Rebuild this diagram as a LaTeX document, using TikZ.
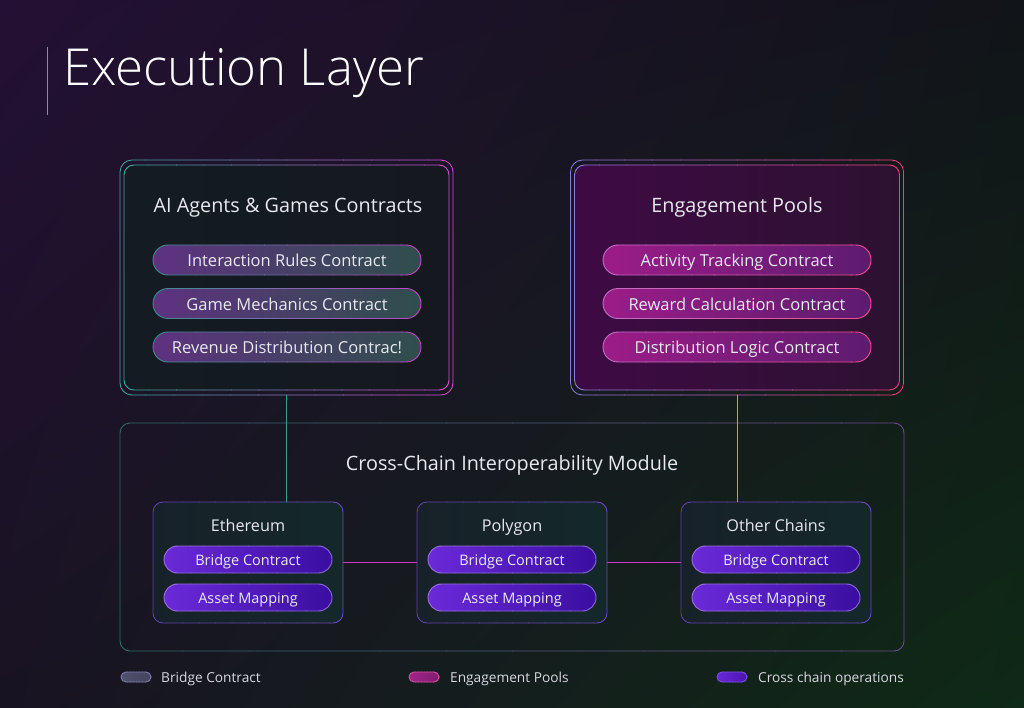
\documentclass[tikz,border=0pt]{standalone}
\usepackage{fontspec}
\setmainfont{Open Sans}
\newfontfamily\titlefont{Open Sans Light}
\usetikzlibrary{shadings}
\definecolor{bgUL}{HTML}{241034}
\definecolor{bgUR}{HTML}{111418}
\definecolor{bgLL}{HTML}{181322}
\definecolor{bgLR}{HTML}{0F2A16}
\definecolor{txt}{HTML}{E8E8F0}
\definecolor{legtxt}{HTML}{D8D8E0}
% border colours per kind
\definecolor{aiL}{HTML}{3FA89E}\definecolor{aiR}{HTML}{D24FD6}
\definecolor{aipL}{HTML}{3E8C90}\definecolor{aipR}{HTML}{C048C8}
\definecolor{engL}{HTML}{8A7ADC}\definecolor{engR}{HTML}{F0407E}
\definecolor{engpL}{HTML}{C070C8}\definecolor{engpR}{HTML}{F04C8C}
\definecolor{chL}{HTML}{5E40A8}\definecolor{chR}{HTML}{6A48B8}
\definecolor{chpL}{HTML}{9A70E0}\definecolor{chpR}{HTML}{8A68D8}
\definecolor{modL}{HTML}{2E6A66}\definecolor{modR}{HTML}{6E4C8C}
\definecolor{lgaL}{HTML}{7A7AA8}\definecolor{lgaR}{HTML}{7A7AA8}
\definecolor{lgeL}{HTML}{D050A0}\definecolor{lgeR}{HTML}{D050A0}
\definecolor{lgcL}{HTML}{7A4AE0}\definecolor{lgcR}{HTML}{7A4AE0}
% fill colours
\definecolor{aiFL}{HTML}{141B22}\definecolor{aiFR}{HTML}{15191F}
\definecolor{aipFL}{HTML}{5E3280}\definecolor{aipFR}{HTML}{2F4E4C}
\definecolor{engFL}{HTML}{3E0A44}\definecolor{engFR}{HTML}{2C1230}
\definecolor{engpFL}{HTML}{9C1C88}\definecolor{engpFR}{HTML}{5C1C6E}
\definecolor{chFL}{HTML}{172129}\definecolor{chFR}{HTML}{14282A}
\definecolor{chpFL}{HTML}{6A2AD8}\definecolor{chpFR}{HTML}{3A0EA0}
\definecolor{lgaFL}{HTML}{505070}\definecolor{lgaFR}{HTML}{44445E}
\definecolor{lgeFL}{HTML}{A02488}\definecolor{lgeFR}{HTML}{801C70}
\definecolor{lgcFL}{HTML}{6A28D8}\definecolor{lgcFR}{HTML}{4A14B0}
\definecolor{tealline}{HTML}{3E9A96}
\definecolor{lavline}{HTML}{A496D0}
\definecolor{magline}{HTML}{D434CC}
\newcommand\gstroke[8]{%
  \foreach \i in {0,...,11}{%
    \pgfmathtruncatemacro\pc{100-\i*100/11}%
    \begin{scope}
      \clip ({#1-#3/2-3+\i*(#3+6)/12},{#2-#4/2-3}) rectangle ({#1-#3/2-3+(\i+1)*(#3+6)/12+0.6},{#2+#4/2+3});
      \draw[draw=#6!\pc!#7, line width=#8, rounded corners=#5] ({#1-#3/2},{#2-#4/2}) rectangle ({#1+#3/2},{#2+#4/2});
    \end{scope}}}
% #1 name #2 cx #3 cy #4 w #5 h #6 radius #7 kind #8 text
\newcommand\gbox[8]{%
  \node[left color=#7FL, right color=#7FR, #7 font, rounded corners=#6pt, minimum width=#4pt, minimum height=#5pt, inner sep=0pt, text=txt] (#1) at (#2,#3) {#8};
  \gstroke{#2}{#3}{#4}{#5}{#6pt}{#7L}{#7R}{0.9pt}}
\tikzset{
  ai font/.style={}, eng font/.style={}, ch font/.style={},
  lga font/.style={}, lge font/.style={}, lgc font/.style={},
  aip font/.style={font=\fontsize{16.5}{19}\selectfont, text height=13.2pt, text depth=0pt},
  engp font/.style={font=\fontsize{16.5}{19}\selectfont, text height=13.2pt, text depth=0pt},
  chp font/.style={font=\fontsize{14.5}{17}\selectfont, text height=12.8pt, text depth=0pt},
  heading/.style={text=txt, font=\fontsize{19.8}{23}\selectfont, anchor=base, inner sep=0pt},
  chhead/.style={text=txt, font=\fontsize{16.2}{19}\selectfont, anchor=base, inner sep=0pt},
  legend/.style={text=legtxt, font=\fontsize{13.7}{16}\selectfont, anchor=base west, inner sep=0pt},
}
\begin{document}
\begin{tikzpicture}[x=1pt,y=-1pt]
\useasboundingbox (0,0) rectangle (1024,708);
\shade[upper left=bgUL, upper right=bgUR, lower left=bgLL, lower right=bgLR] (0,0) rectangle (1024,708);
% title
\draw[color=legtxt!60!bgUL, line width=0.9pt] (47,47) -- (47,115);
\node[anchor=base west, inner sep=0pt, text=white, font=\titlefont\fontsize{51}{60}\selectfont] (title) at (63,86) {Execution Layer};
% module box
\gstroke{512}{537}{784}{228}{10pt}{modL}{modR}{0.9pt}
\node[heading] (modt) at (512,470) {Cross-Chain Interoperability Module};
% AI box
\gstroke{286.5}{277.5}{333}{235}{12pt}{aiL}{aiR}{0.8pt}
\gbox{ai}{286.5}{277.5}{325}{225}{10}{ai}{}
\node[heading] (ait) at (288,212.5) {AI Agents \& Games Contracts};
\gbox{ai1}{287}{260}{268}{30}{15}{aip}{Interaction Rules Contract}
\gbox{ai2}{287}{303.5}{268}{30}{15}{aip}{Game Mechanics Contract}
\gbox{ai3}{287}{347}{268}{30}{15}{aip}{Revenue Distribution Contrac!}
% Engagement box
\gstroke{737}{277.5}{333}{235}{12pt}{engL}{engR}{0.8pt}
\gbox{eng}{737}{277.5}{325}{225}{10}{eng}{}
\node[heading] (engt) at (737,212.5) {Engagement Pools};
\gbox{eng1}{737}{260}{268}{30}{15}{engp}{Activity Tracking Contract}
\gbox{eng2}{737}{303.5}{268}{30}{15}{engp}{Reward Calculation Contract}
\gbox{eng3}{737}{347}{268}{30}{15}{engp}{Distribution Logic Contract}
% chain boxes
\gbox{eth}{248}{562.5}{190}{121}{10}{ch}{}
\gbox{pol}{512}{562.5}{190}{121}{10}{ch}{}
\gbox{oth}{776}{562.5}{190}{121}{10}{ch}{}
\node[chhead] (etht) at (248,531) {Ethereum};
\node[chhead] (polt) at (512,531) {Polygon};
\node[chhead] (otht) at (776,531) {Other Chains};
\gbox{eth1}{248}{559.5}{168}{27}{13.5}{chp}{Bridge Contract}
\gbox{eth2}{248}{597.5}{168}{27}{13.5}{chp}{Asset Mapping}
\gbox{pol1}{512}{559.5}{168}{27}{13.5}{chp}{Bridge Contract}
\gbox{pol2}{512}{597.5}{168}{27}{13.5}{chp}{Asset Mapping}
\gbox{oth1}{776}{559.5}{168}{27}{13.5}{chp}{Bridge Contract}
\gbox{oth2}{776}{597.5}{168}{27}{13.5}{chp}{Asset Mapping}
% connectors
\draw[color=tealline, line width=0.9pt] ([yshift=-5pt]ai.south) -- (ai.south |- eth.north);
\draw[color=lavline, line width=0.9pt] ([yshift=-5pt]eng.south) -- (eng.south |- oth.north);
\draw[color=magline, line width=1pt] (eth.east) -- (pol.west);
\draw[color=magline, line width=1pt] (pol.east) -- (oth.west);
% legend
\gbox{lga}{136}{677}{30}{10}{5}{lga}{}
\gbox{lge}{424}{677}{30}{10}{5}{lge}{}
\gbox{lgc}{732}{677}{30}{10}{5}{lgc}{}
\node[legend] (lgat) at (161,682) {Bridge Contract};
\node[legend] (lget) at (450,682) {Engagement Pools};
\node[legend] (lgct) at (758,682) {Cross chain operations};
\end{tikzpicture}
\end{document}
